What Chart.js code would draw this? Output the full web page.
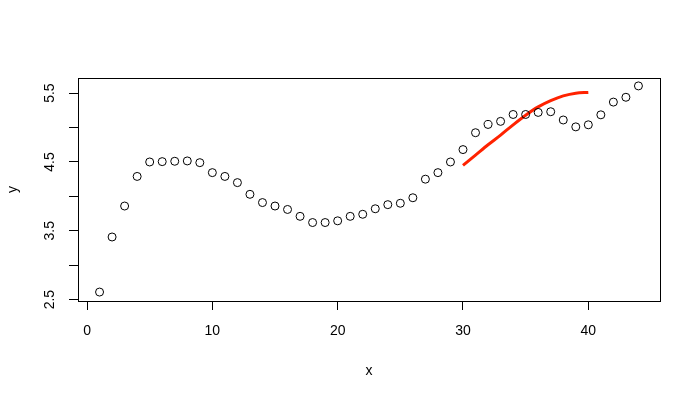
<!DOCTYPE html>
<html>
<head>
<meta charset="utf-8">
<script src="https://cdn.jsdelivr.net/npm/chart.js@4"></script>
<style>
  body { margin: 0; background: #fff; }
  #wrap { width: 700px; height: 400px; }
</style>
</head>
<body>
<div id="wrap"><canvas id="plot" width="700" height="400"></canvas></div>
<script>
// observed points (x = 1..44)
const xVals = [1, 2, 3, 4, 5, 6, 7, 8, 9, 10, 11, 12, 13, 14, 15, 16, 17, 18, 19, 20, 21, 22,
  23, 24, 25, 26, 27, 28, 29, 30, 31, 32, 33, 34, 35, 36, 37, 38, 39, 40, 41, 42, 43, 44];
const yVals = [2.61, 3.41, 3.86, 4.29, 4.50, 4.505, 4.51, 4.515, 4.49, 4.345, 4.29, 4.20, 4.03, 3.91, 3.86, 3.81, 3.71, 3.62, 3.62, 3.645, 3.71, 3.74,
  3.82, 3.88, 3.90, 3.98, 4.25, 4.345, 4.50, 4.68, 4.925, 5.045, 5.09, 5.19, 5.19, 5.22, 5.23, 5.11, 5.01, 5.04, 5.185, 5.37, 5.44, 5.605];

// red fitted curve
const fitX = [30, 31, 32, 33, 34, 35, 36, 37, 38, 39, 40];
const fitY = [4.45, 4.60, 4.75, 4.89, 5.04, 5.18, 5.30, 5.39, 5.46, 5.50, 5.51];

// axis ticks
const xTicks = [0, 10, 20, 30, 40];
const yTicks = [2.5, 3.0, 3.5, 4.0, 4.5, 5.0, 5.5];
const yLabels = [2.5, 3.5, 4.5, 5.5];

const font = '"Liberation Sans", Arial, sans-serif';

const rAxes = {
  id: 'rAxes',
  afterDraw(chart) {
    const ctx = chart.ctx;
    const a = chart.chartArea;
    const ys = chart.scales.y;
    ctx.save();
    ctx.strokeStyle = '#000';
    ctx.lineWidth = 1;
    ctx.strokeRect(a.left + 0.5, a.top + 0.5, a.right - a.left, a.bottom - a.top);

    ctx.fillStyle = '#000';
    ctx.font = '14px ' + font;
    ctx.textAlign = 'center';
    ctx.textBaseline = 'middle';
    yLabels.forEach(v => {
      ctx.save();
      ctx.translate(50, ys.getPixelForValue(v));
      ctx.rotate(-Math.PI / 2);
      ctx.fillText(v.toFixed(1), 0, 0);
      ctx.restore();
    });

    ctx.fillText('x', (a.left + a.right) / 2, 371);
    ctx.save();
    ctx.translate(13, (a.top + a.bottom) / 2);
    ctx.rotate(-Math.PI / 2);
    ctx.fillText('y', 0, 0);
    ctx.restore();
    ctx.restore();
  }
};

const points = xVals.map((x, i) => ({ x: x, y: yVals[i] }));
const fit = fitX.map((x, i) => ({ x: x, y: fitY[i] }));

new Chart(document.getElementById('plot'), {
  type: 'scatter',
  data: {
    datasets: [{
      data: points,
      pointRadius: 4,
      pointBorderWidth: 1,
      pointBorderColor: '#000',
      pointBackgroundColor: 'rgba(0,0,0,0)',
      showLine: false
    }, {
      data: fit,
      showLine: true,
      borderColor: '#ff2200',
      borderWidth: 3,
      pointRadius: 0,
      tension: 0.4,
      cubicInterpolationMode: 'monotone'
    }]
  },
  options: {
    responsive: false,
    animation: false,
    layout: { padding: { top: 78, right: 40, left: 0, bottom: 0 } },
    plugins: { legend: { display: false }, tooltip: { enabled: false } },
    scales: {
      x: {
        type: 'linear',
        min: -0.72,
        max: 45.72,
        afterFit: s => { s.height = 99; },
        afterBuildTicks: s => { s.ticks = xTicks.map(v => ({ value: v })); },
        grid: { drawOnChartArea: false, color: '#000', tickLength: 9 },
        border: { color: '#000' },
        ticks: { color: '#000', font: { family: font, size: 14 }, padding: 13, maxRotation: 0 }
      },
      y: {
        type: 'linear',
        min: 2.48,
        max: 5.72,
        afterFit: s => { s.width = 78; },
        afterBuildTicks: s => { s.ticks = yTicks.map(v => ({ value: v })); },
        grid: { drawOnChartArea: false, color: '#000', tickLength: 9 },
        border: { color: '#000' },
        ticks: { display: false }
      }
    }
  },
  plugins: [rAxes]
});
</script>
</body>
</html>
